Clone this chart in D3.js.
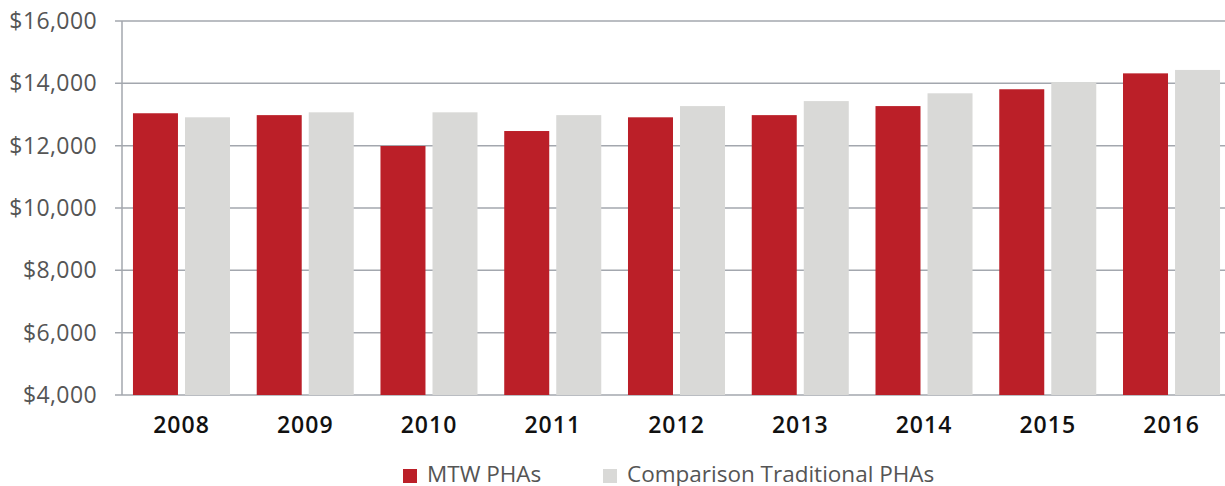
<!DOCTYPE html>
<html>
<head>
<meta charset="utf-8">
<script src="https://cdn.jsdelivr.net/npm/d3@7"></script>
<style>
  body { margin: 0; background: #fff; }
  svg text { font-family: "Open Sans", sans-serif; }
</style>
</head>
<body>
<svg id="chart"></svg>
<script>
const years = ["2008","2009","2010","2011","2012","2013","2014","2015","2016"];
const series = ["MTW PHAs","Comparison Traditional PHAs"];
const mtw = [13040, 12980, 11990, 12470, 12910, 12980, 13270, 13810, 14320];
const comparison = [12910, 13070, 13070, 12980, 13270, 13430, 13680, 14040, 14430];
const yTicks = [4000, 6000, 8000, 10000, 12000, 14000, 16000];

const w = 1225;
const h = 486;
const plotLeft = 122;
const plotTop = 21;
const plotBottom = 395;

const palette = d3.scaleOrdinal()
                  .domain(series)
                  .range(["#bb1f28","#d9d9d7"]);

const svg = d3.select("#chart")
              .attr("width", w)
              .attr("height", h);

const y = d3.scaleLinear()
            .domain([4000, 16000])
            .range([plotBottom, plotTop]);

const x0 = d3.scaleBand()
             .domain(years)
             .range([119.6, 1233.4])
             .paddingInner(0.216)
             .paddingOuter(0.108);

const x1 = d3.scaleBand()
             .domain(series)
             .range([0, x0.bandwidth()])
             .paddingInner(0.135);

// gridlines
svg.append("g")
   .selectAll("line")
   .data(yTicks)
   .enter()
   .append("line")
   .attr("x1", plotLeft - 7)
   .attr("x2", w)
   .attr("y1", d => y(d))
   .attr("y2", d => y(d))
   .attr("stroke", "#a3a7ae")
   .attr("stroke-width", 1.5);

// vertical axis line
svg.append("line")
   .attr("x1", plotLeft).attr("x2", plotLeft)
   .attr("y1", plotTop).attr("y2", plotBottom)
   .attr("stroke", "#a3a7ae")
   .attr("stroke-width", 1.5);

const rows = years.map((yr, i) => ({year: yr, values: [mtw[i], comparison[i]]}));

svg.append("g")
   .selectAll("g")
   .data(rows)
   .enter()
   .append("g")
   .attr("transform", d => "translate(" + x0(d.year) + ",0)")
   .selectAll("rect")
   .data(d => d.values.map((v, i) => ({key: series[i], value: v})))
   .enter()
   .append("rect")
   .attr("x", d => x1(d.key))
   .attr("width", x1.bandwidth())
   .attr("y", d => y(d.value))
   .attr("height", d => plotBottom - y(d.value))
   .attr("fill", d => palette(d.key));

// y axis labels
const yAxis = svg.append("g")
   .attr("transform", "translate(" + plotLeft + ",0)")
   .call(d3.axisLeft(y)
           .tickValues(yTicks)
           .tickSize(0)
           .tickPadding(25)
           .tickFormat(d => "$" + d3.format(",")(d)));
yAxis.select(".domain").remove();
yAxis.selectAll("text")
     .attr("fill", "#555")
     .style("font-size", "23px")
     .style("letter-spacing", "0.4px");

// x axis labels
const xAxis = svg.append("g")
   .attr("transform", "translate(0," + plotBottom + ")")
   .call(d3.axisBottom(x0).tickSize(0).tickPadding(22));
xAxis.select(".domain").remove();
xAxis.selectAll("text")
     .attr("fill", "#111")
     .style("font-size", "23px")
     .style("font-weight", "600")
     .style("letter-spacing", "1px");

// legend
const legendX = [403, 603];
const legend = svg.append("g")
   .selectAll("g")
   .data(series)
   .enter()
   .append("g")
   .attr("transform", (d, i) => "translate(" + legendX[i] + ",0)");

legend.append("rect")
      .attr("x", 0)
      .attr("y", 469)
      .attr("width", 14)
      .attr("height", 14)
      .attr("fill", d => palette(d));

legend.append("text")
      .attr("x", 24)
      .attr("y", 482)
      .attr("fill", "#555")
      .style("font-size", "22.5px")
      .text(d => d);
</script>
</body>
</html>
